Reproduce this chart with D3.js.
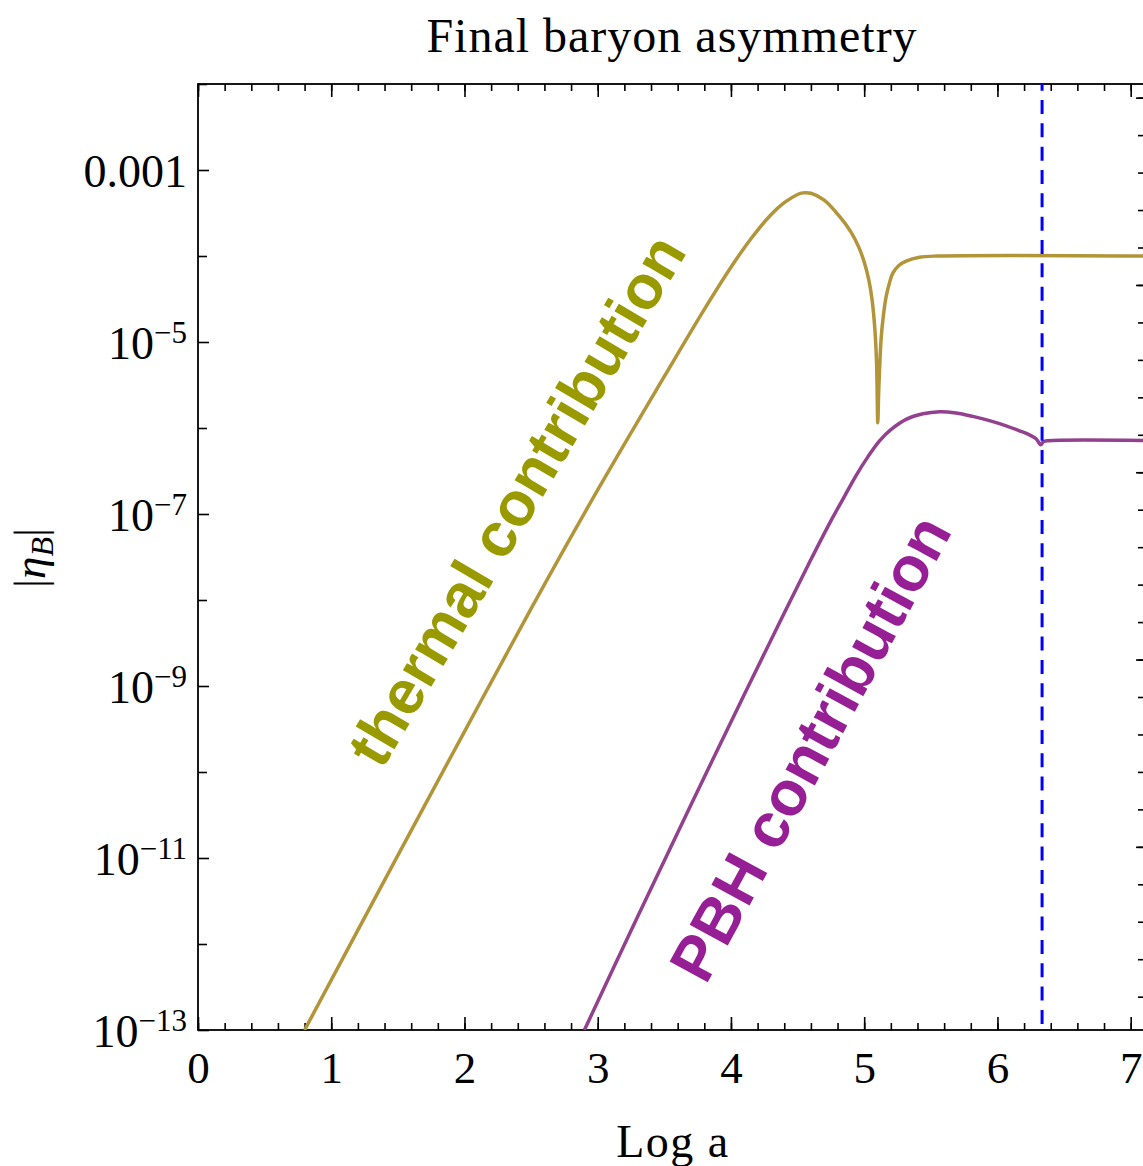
<!DOCTYPE html>
<html>
<head>
<meta charset="utf-8">
<script src="https://cdn.jsdelivr.net/npm/d3@7"></script>
<style>
body { margin: 0; background: #fff; }
svg { display: block; }
</style>
</head>
<body>
<div id="chart"></div>
<script>
'use strict';

// values: Log a  ->  log10 |eta_B|
var thermalLogA   = [0.80, 1.50, 2.00, 2.50, 3.00, 3.50, 3.80, 4.00, 4.15, 4.30, 4.40, 4.50, 4.54, 4.60, 4.70, 4.815, 4.90, 4.96, 5.00, 5.035, 5.06, 5.08, 5.093, 5.102, 5.108, 5.115, 5.128, 5.145, 5.165, 5.19, 5.215, 5.26, 5.315, 5.415, 5.55, 7.20];
var thermalLogEta = [-13.0, -10.97, -9.53, -8.10, -6.72, -5.40, -4.62, -4.13, -3.80, -3.52, -3.38, -3.285, -3.266, -3.27, -3.35, -3.54, -3.72, -3.90, -4.07, -4.28, -4.52, -4.85, -5.25, -5.94, -5.62, -5.33, -4.94, -4.68, -4.47, -4.31, -4.20, -4.11, -4.06, -4.015, -4.0, -4.0];

var pbhLogA   = [2.90, 3.30, 3.70, 4.10, 4.40, 4.60, 4.75, 4.85, 4.94, 5.03, 5.115, 5.20, 5.315, 5.44, 5.565, 5.69, 5.815, 5.94, 6.065, 6.17, 6.24, 6.29, 6.325, 6.345, 6.38, 7.20];
var pbhLogEta = [-13.0, -11.68, -10.38, -9.10, -8.15, -7.53, -7.08, -6.80, -6.55, -6.33, -6.15, -6.02, -5.90, -5.835, -5.81, -5.825, -5.865, -5.915, -5.975, -6.035, -6.08, -6.125, -6.195, -6.16, -6.148, -6.147];

var evaporationLogA = 6.335;

var xTickValues = [0, 1, 2, 3, 4, 5, 6, 7];
var yTickValues = [1e-13, 1e-11, 1e-9, 1e-7, 1e-5, 1e-3];
var yTickLabels = ['10^−13', '10^−11', '10^−9', '10^−7', '10^−5', '0.001'];
var yMinorValues = [1e-12, 1e-10, 1e-8, 1e-6, 1e-4, 1e-2];

var plot = {};
plot.margins = {top: 84, left: 198};
plot.cw = 946;
plot.ch = 946;
plot.serif = '"Liberation Serif", "Times New Roman", serif';
plot.sans = '"Liberation Sans", Arial, sans-serif';

var svg = d3.select('#chart').append('svg')
    .attr('width', 1143)
    .attr('height', 1166);

var x = d3.scaleLinear().domain([0, 7.1]).range([0, plot.cw]);
var y = d3.scaleLog().domain([1e-13, 1e-2]).range([plot.ch, 0]);
// unlabeled scale on the right frame edge
var yRight = d3.scaleLinear().domain([0.022, 5.073]).range([plot.ch, 0]);

var g = svg.append('g')
    .attr('transform', 'translate(' + plot.margins.left + ',' + plot.margins.top + ')');

g.append('clipPath').attr('id', 'clip')
  .append('rect').attr('width', plot.cw).attr('height', plot.ch);

function styleAxis(sel) {
    sel.select('.domain').remove();
    sel.selectAll('line').attr('stroke', '#000').attr('stroke-width', 1.6);
}

// bottom axis
var xMinor = d3.range(0, 7.1, 0.2);
g.append('g').attr('transform', 'translate(0,' + plot.ch + ')')
    .call(d3.axisBottom(x).tickValues(xMinor).tickSize(-7).tickFormat(''))
    .call(styleAxis);
var xAxisGroup = g.append('g').attr('transform', 'translate(0,' + plot.ch + ')')
    .call(d3.axisBottom(x).tickValues(xTickValues).tickSize(-13).tickFormat(d3.format('d')))
    .call(styleAxis);
xAxisGroup.selectAll('text')
    .attr('y', 53).attr('dy', null)
    .attr('fill', '#000')
    .style('font-family', plot.serif)
    .style('font-size', '45px');

// top axis
g.append('g')
    .call(d3.axisTop(x).tickValues(xMinor).tickSize(-7).tickFormat(''))
    .call(styleAxis);
g.append('g')
    .call(d3.axisTop(x).tickValues(xTickValues).tickSize(-13).tickFormat(''))
    .call(styleAxis);

// left axis
g.append('g')
    .call(d3.axisLeft(y).tickValues(yMinorValues).tickSize(-9).tickFormat(''))
    .call(styleAxis);
var yAxisGroup = g.append('g')
    .call(d3.axisLeft(y).tickValues(yTickValues).tickSize(-11).tickFormat(''))
    .call(styleAxis);
yAxisGroup.selectAll('.tick').each(function (d, i) {
    var parts = yTickLabels[i].split('^');
    var t = d3.select(this).append('text')
        .attr('x', -11)
        .attr('y', 16)
        .attr('text-anchor', 'end')
        .attr('fill', '#000')
        .style('font-family', plot.serif)
        .style('font-size', '46px');
    t.append('tspan').text(parts[0]);
    if (parts.length > 1) {
        t.append('tspan').attr('dy', -16).style('font-size', '31px').text(parts[1]);
    }
});

// right axis (ticks only)
g.append('g').attr('transform', 'translate(' + plot.cw + ',0)')
    .call(d3.axisRight(yRight).tickValues(d3.range(0.2, 5.01, 0.2)).tickSize(-6).tickFormat(''))
    .call(styleAxis);
g.append('g').attr('transform', 'translate(' + plot.cw + ',0)')
    .call(d3.axisRight(yRight).tickValues([1, 2, 3, 4, 5]).tickSize(-8).tickFormat(''))
    .call(styleAxis);

// frame
g.append('rect')
    .attr('width', plot.cw).attr('height', plot.ch)
    .attr('fill', 'none').attr('stroke', '#000').attr('stroke-width', 1.8);

// curves
var line = d3.line()
    .x(function (d) { return x(d[0]); })
    .y(function (d) { return y(Math.pow(10, d[1])); })
    .curve(d3.curveCatmullRom.alpha(0.5));

var curves = g.append('g').attr('clip-path', 'url(#clip)');

curves.append('path')
    .attr('d', line(d3.zip(thermalLogA, thermalLogEta)))
    .attr('fill', 'none')
    .attr('stroke', '#b29439')
    .attr('stroke-width', 3.5)
    .attr('stroke-linejoin', 'round');

curves.append('path')
    .attr('d', line(d3.zip(pbhLogA, pbhLogEta)))
    .attr('fill', 'none')
    .attr('stroke', '#93408f')
    .attr('stroke-width', 3.5)
    .attr('stroke-linejoin', 'round');

curves.append('line')
    .attr('x1', x(evaporationLogA)).attr('x2', x(evaporationLogA))
    .attr('y1', 0).attr('y2', plot.ch)
    .attr('stroke', '#0000ff')
    .attr('stroke-width', 3)
    .attr('stroke-dasharray', '14,9.33')
    .attr('stroke-dashoffset', 7.3);

// annotations
svg.append('text')
    .attr('transform', 'translate(516,500) rotate(-59.5)')
    .attr('text-anchor', 'middle')
    .attr('dy', '0.35em')
    .attr('fill', '#999900')
    .style('font-family', plot.sans)
    .style('font-weight', 'bold')
    .style('font-size', '62px')
    .text('thermal contribution');

svg.append('text')
    .attr('transform', 'translate(810,748) rotate(-61.5)')
    .attr('text-anchor', 'middle')
    .attr('dy', '0.35em')
    .attr('fill', '#961f95')
    .style('font-family', plot.sans)
    .style('font-weight', 'bold')
    .style('font-size', '63px')
    .text('PBH contribution');

// titles
svg.append('text')
    .attr('x', 672).attr('y', 52)
    .attr('text-anchor', 'middle')
    .style('font-family', plot.serif)
    .style('font-size', '48px')
    .style('letter-spacing', '1px')
    .text('Final baryon asymmetry');

svg.append('text')
    .attr('x', 673).attr('y', 1157)
    .attr('text-anchor', 'middle')
    .style('font-family', plot.serif)
    .style('font-size', '46px')
    .style('letter-spacing', '1.5px')
    .text('Log a');

var yLabel = svg.append('text')
    .attr('transform', 'translate(45,558) rotate(-90)')
    .attr('text-anchor', 'middle')
    .style('font-family', plot.serif)
    .style('font-size', '45px');
yLabel.append('tspan').text('|');
yLabel.append('tspan').style('font-style', 'italic').text('η');
yLabel.append('tspan').attr('dy', 8).style('font-style', 'italic').style('font-size', '32px').text('B');
yLabel.append('tspan').attr('dy', -8).text('|');
</script>
</body>
</html>
